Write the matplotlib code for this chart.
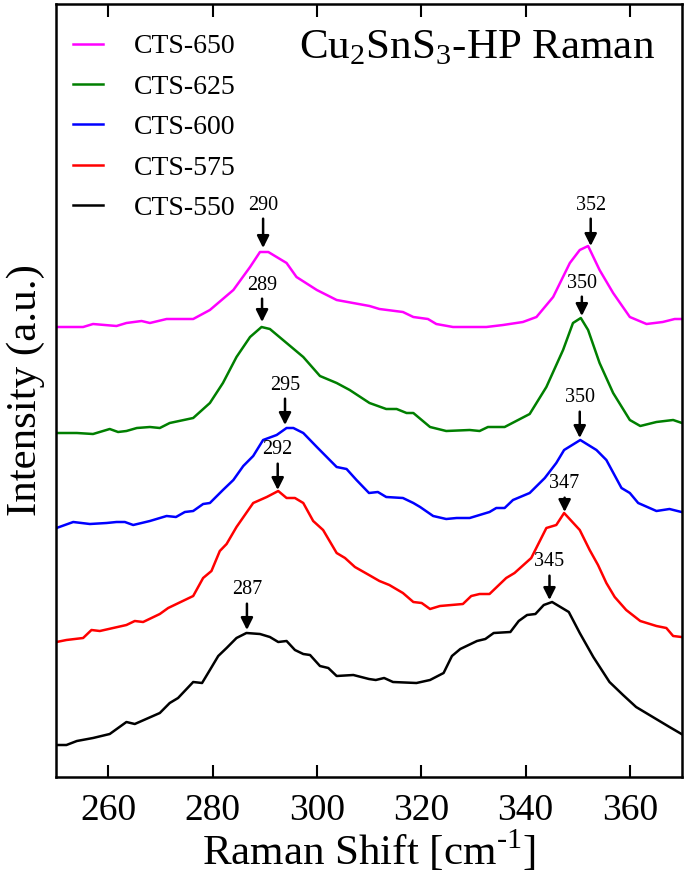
import numpy as np
import matplotlib
matplotlib.use('Agg')
import matplotlib.pyplot as plt

plt.rcParams['font.family'] = 'Liberation Serif'
plt.rcParams['mathtext.fontset'] = 'custom'
plt.rcParams['mathtext.rm'] = 'Liberation Serif'

# CTS-650
x650 = [250.1,255.2,257.1,261.6,263.5,266.4,268,271.2,276.3,279.5,284,287.2,289.1,290.7,294.2,296.1,300,303.8,310.1,312,
        316.5,318.5,321.3,322.9,326.1,332.5,335.7,339.5,342.1,345.3,348.5,350.4,352,354.2,356.8,360,363.2,366.3,368.6,370]
y650 = [450,450,453,451,454,456,454,458,458,467,487,510,525,525,514,500,487,477,471,468,
        465,460,458,453,450,450,452,455,460,480,514,527,531,507,484,460,453,455,458,458]
# CTS-625
x625 = [250.1,254,257.1,260.3,261.9,263.5,265.5,268,269.9,271.8,276.3,279.5,282,284.6,287.2,289.4,291,294.2,297.4,300.6,
        303.8,306.3,310.1,313.3,315.3,317.2,318.5,321.7,324.8,329.3,331.2,332.8,336,340.8,344,347.2,349.1,350.6,352,354.2,
        356.8,360,362,365.1,368.3,370]
y625 = [344,344,343,348,345,346,349,350,349,354,359,374,394,420,440,450,448,434,420,401,
        394,387,374,368,368,364,364,350,346,347,346,350,350,363,390,427,454,459,447,414,
        384,357,351,355,357,354]
# CTS-600
x600 = [250.1,253.3,256.5,259.7,261.6,263.2,264.8,268,271.2,273,274.7,276.3,278.2,279.5,282,284,285.9,287.8,289.7,292.3,
        294.2,295.5,297.4,300,301.9,303.8,305.7,307.6,310,311.7,313.3,316.5,318.5,319.8,322.3,324.8,326.8,329.3,333.1,334.4,
        336,337.6,340.8,343.7,345.9,347.4,350.5,353.6,355.5,358.4,360,361.6,365.1,367.6,369.9]
y600 = [249,255,253,254,255,255,252,256,261,260,265,266,273,274,287,297,311,321,337,342,
        349,349,344,330,320,310,308,297,284,285,280,279,274,270,261,258,259,259,265,269,
        269,277,284,299,314,327,337,327,317,289,284,274,266,268,265]
# CTS-575
x575 = [250.1,252,255.2,256.8,258.4,263.5,265.1,266.7,269.9,271.5,273.1,276.3,278.2,279.8,281.4,282.7,284.6,287.8,290.4,292.6,
        294.2,295.8,297.4,299.3,301.2,303.8,305.4,307.3,310,312,313.9,316.5,318.5,320.1,321.7,323.6,328,329.6,331.2,333.1,
        336.3,337.9,341.1,344,345.9,347.4,350.4,352.3,353.9,355.5,357.1,359.3,362,365.1,367,368.3,369.9]
y575 = [135,137,139,147,146,152,156,155,163,169,173,181,199,206,226,233,250,274,280,286,
        279,279,274,256,247,224,219,210,202,196,192,184,175,174,168,171,173,181,183,183,
        199,204,219,249,252,264,247,227,212,194,180,167,156,151,149,141,140]
# CTS-550
x550 = [250.1,252,254,257.1,260.3,263.5,265.1,269.9,271.8,273.4,276.3,278,279.5,281.1,282.7,284.6,286.5,289.1,291,292.6,
        294.2,295.8,297.4,298.7,300.6,302.2,303.8,307,310,311.3,312.9,314.6,319.1,321.7,324.3,325.9,327.5,330.7,332.3,333.9,
        337.1,338.7,340.3,341.9,343.5,345.1,348.3,350.4,353,356.1,358.7,361.2,364.4,367.6,369.9]
y550 = [32,32,36,39,43,55,53,64,74,79,95,94,107,121,129,139,144,143,140,135,
        136,127,123,122,111,109,101,102,98,97,99,95,94,97,104,121,128,136,138,144,
        145,156,162,163,172,175,165,144,120,95,82,70,60,50,43]

labels = ['CTS-650', 'CTS-625', 'CTS-600', 'CTS-575', 'CTS-550']
colors = ['#ff00ff', '#007f00', '#0000ff', '#ff0000', '#000000']
xs = [x650, x625, x600, x575, x550]
ys = [y650, y625, y600, y575, y550]

# peak arrows: arrow x, arrow tip height, label, text offset (px)
peak_x = [289.7, 352.5, 289.5, 350.8, 293.9, 350.4, 292.5, 347.5, 286.6, 344.6]
peak_tip = [529, 531, 455, 461, 352, 339, 287, 265, 147, 177]
peak_lbl = ['290', '352', '289', '350', '295', '350', '292', '347', '287', '345']
peak_off = [43, 41, 37, 33, 40, 40, 40, 28, 40, 38]

fig = plt.figure(figsize=(6.85, 8.83), dpi=100)
ax = fig.add_axes([56/685, 1-777/883, 626/685, 773/883])

for x, y, c, l in zip(xs, ys, colors, labels):
    ax.plot(x, y, color=c, lw=1.8, label=l)

for px, pt, pl, po in zip(peak_x, peak_tip, peak_lbl, peak_off):
    ax.annotate(pl, xy=(px, pt), xytext=(0, po), textcoords='offset pixels',
                ha='center', va='center', fontsize=14.5,
                arrowprops=dict(arrowstyle='-|>', color='k', lw=1.8,
                                mutation_scale=18, shrinkA=1, shrinkB=0))

ax.set_xlim(250, 370)
ax.set_ylim(0, 773)
ax.set_xticks([260, 280, 300, 320, 340, 360])
ax.set_yticks([])
ax.tick_params(axis='x', direction='in', top=True, length=9, width=1.5,
               labelsize=27, pad=12)
for s in ax.spines.values():
    s.set_linewidth(1.8)

ax.set_xlabel('Raman Shift [cm$^{\\text{-1}}$]', fontsize=31, labelpad=0)
ax.set_ylabel('Intensity (a.u.)', fontsize=31, labelpad=8)

ax.text(0.672, 0.943, 'Cu$_\\mathrm{2}$SnS$_\\mathrm{3}$-HP Raman', transform=ax.transAxes,
        ha='center', va='center', fontsize=31)

ax.legend(loc='upper left', frameon=False, fontsize=20, handlelength=1.1,
          handletextpad=1.1, labelspacing=0.54, borderaxespad=0.2,
          bbox_to_anchor=(0.0, 0.983))

fig.savefig('out.png', dpi=100)
